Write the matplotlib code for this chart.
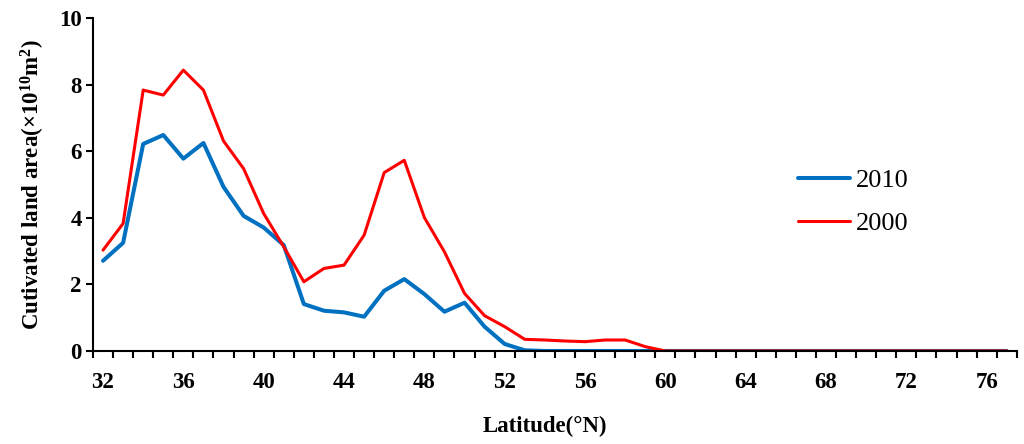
import numpy as np
import matplotlib
matplotlib.use('Agg')
import matplotlib.pyplot as plt

plt.rcParams['font.family'] = ['Liberation Serif', 'DejaVu Serif']
plt.rcParams['mathtext.fontset'] = 'custom'
plt.rcParams['mathtext.rm'] = 'Liberation Serif:bold'
plt.rcParams['mathtext.default'] = 'rm'

lat = list(range(32, 78))

area_2010 = [2.71, 3.25, 6.22, 6.49, 5.78, 6.25, 4.93, 4.06, 3.71, 3.18,
             1.41, 1.21, 1.16, 1.03, 1.81, 2.16, 1.71, 1.18, 1.45, 0.73,
             0.21, 0.02] + [0.0] * 24

area_2000 = [3.03, 3.83, 7.84, 7.69, 8.44, 7.84, 6.31, 5.48, 4.13, 3.13,
             2.08, 2.48, 2.58, 3.48, 5.36, 5.73, 4.01, 2.98, 1.73, 1.06,
             0.73, 0.35, 0.33, 0.30, 0.28, 0.33, 0.33, 0.13] + [0.0] * 18

fig = plt.figure(figsize=(10.24, 4.44), dpi=100)
ax = fig.add_axes([0.0908, 0.2095, 0.9022, 0.7495])

ax.plot(lat, area_2010, color='#0070C0', lw=2.9, label='2010', solid_capstyle='round')
ax.plot(lat, area_2000, color='#FF0000', lw=2.2, label='2000', solid_capstyle='round')

ax.set_xlim(31.5, 77.5)
ax.set_ylim(0, 10)
ax.set_xticks(range(32, 78, 4))
ax.set_xticks(np.arange(31.5, 78, 1), minor=True)
ax.set_yticks(range(0, 11, 2))
ax.tick_params(axis='x', which='major', length=0, pad=15)
ax.tick_params(axis='x', which='minor', length=5, width=1.5, direction='out')
ax.tick_params(axis='y', length=5, width=1.5, direction='out', pad=3)
for t in ax.get_xticklabels() + ax.get_yticklabels():
    t.set_fontsize(16.5)
    t.set_fontweight('bold')

for s in ['top', 'right']:
    ax.spines[s].set_visible(False)
for s in ['left', 'bottom']:
    ax.spines[s].set_linewidth(1.5)

ax.set_xlabel('Latitude(°N)', fontsize=16.5, fontweight='bold')
ax.xaxis.set_label_coords(0.489, -0.196)
ax.set_ylabel('Cutivated land area(×10$^{10}$m$^2$)', fontsize=16.5,
              fontweight='bold', labelpad=9)

ax.legend(loc='center left', bbox_to_anchor=(0.737, 0.448), frameon=False,
          fontsize=19, handlelength=2.0, handletextpad=0.2, labelspacing=0.75)

fig.savefig('out.png', dpi=100)
